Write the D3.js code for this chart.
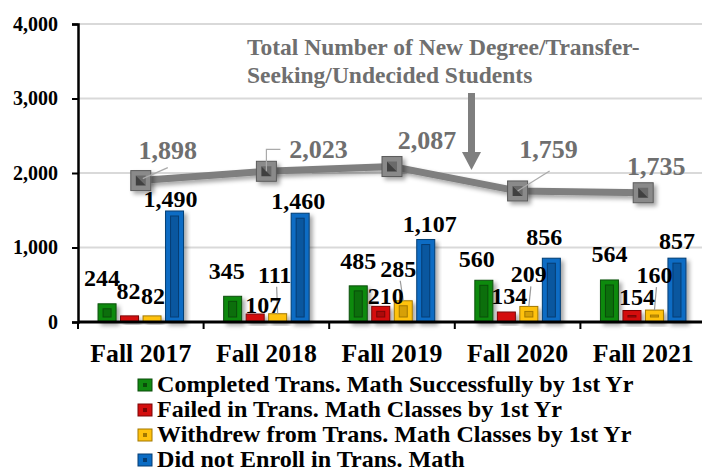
<!DOCTYPE html>
<html>
<head>
<meta charset="utf-8">
<script src="https://cdn.jsdelivr.net/npm/d3@7"></script>
<style>
  body { margin: 0; background: #fff; }
  svg { display: block; font-family: 'Liberation Serif', 'Times New Roman', serif; font-weight: bold; }
</style>
</head>
<body>
<svg width="702" height="472"></svg>
<script>
const years = ['Fall 2017', 'Fall 2018', 'Fall 2019', 'Fall 2020', 'Fall 2021'];
const seriesNames = [
  'Completed Trans. Math Successfully by 1st Yr',
  'Failed in Trans. Math Classes by 1st Yr',
  'Withdrew from Trans. Math Classes by 1st Yr',
  'Did not Enroll in Trans. Math'
];
const completed = [244, 345, 485, 560, 564];
const failed = [82, 107, 210, 134, 154];
const withdrew = [82, 111, 285, 209, 160];
const notEnrolled = [1490, 1460, 1107, 856, 857];
const totals = [1898, 2023, 2087, 1759, 1735];
const yTicks = [0, 1000, 2000, 3000, 4000];
const annotation = ['Total Number of New Degree/Transfer-', 'Seeking/Undecided Students'];

const colors = ['#118a11', '#d40f0f', '#ffc20e', '#0b6cc4'];
const darker = ['#0a4d0a', '#7a0606', '#a37800', '#063d73'];

// hand placed label nudges (dx, dy) per series, per year
const barNudge = [
  [[-5, -14], [-6, -13], [0, -13], [-7, -9], [0, -14]],
  [[-1, -13], [8, 3], [5, 2], [3, -4], [5, -2]],
  [[1, -8], [-3, -27], [-5, -20], [0, -20], [0, -23]],
  [[-4, 0], [-2, 0], [4, -4], [-7, -9], [0, -5]]
];
const totalNudge = [[27, -22], [52, -13], [35, -18], [31, -33], [13, -18]];

const svg = d3.select('svg');
const plotLeft = 78, plotRight = 706, plotTop = 24, plotBottom = 322;

const x = d3.scaleBand().domain(years).range([plotLeft, plotRight]);
const x1 = d3.scaleBand().domain(d3.range(4)).range([-45, 45]).paddingInner(0.2).paddingOuter(0.1);
const y = d3.scaleLinear().domain([0, 4000]).range([plotBottom, plotTop]);

const defs = svg.append('defs');
defs.append('filter').attr('id', 'shadow')
  .attr('x', '-30%').attr('y', '-30%').attr('width', '170%').attr('height', '170%')
  .append('feDropShadow')
  .attr('dx', 3).attr('dy', 3).attr('stdDeviation', 2)
  .attr('flood-color', '#000').attr('flood-opacity', 0.35);

// gridlines
svg.append('g')
  .selectAll('line')
  .data(yTicks.filter(d => d > 0))
  .enter()
  .append('line')
  .attr('x1', plotLeft).attr('x2', 702)
  .attr('y1', d => y(d)).attr('y2', d => y(d))
  .attr('stroke', '#d9d9d9').attr('stroke-width', 2);

// y axis
const yAxis = svg.append('g')
  .attr('transform', `translate(${plotLeft},0)`)
  .call(d3.axisLeft(y).tickValues(yTicks).tickSize(6).tickPadding(14).tickFormat(d3.format(',')));
yAxis.select('.domain').attr('stroke', '#000').attr('stroke-width', 2.5);
yAxis.selectAll('.tick line').attr('stroke', '#000').attr('stroke-width', 2);
yAxis.selectAll('.tick text')
  .attr('font-family', 'Liberation Serif').attr('font-weight', 'bold')
  .attr('font-size', 20).attr('fill', '#000');

// bars
const series = [completed, failed, withdrew, notEnrolled];
const barData = [];
series.forEach((vals, s) => vals.forEach((v, i) => barData.push({ s, i, v })));
const barX = d => x(years[d.i]) + x.bandwidth() / 2 + x1(d.s);

const bars = svg.append('g').selectAll('g')
  .data(barData)
  .enter()
  .append('g')
  .attr('transform', d => `translate(${barX(d)},0)`);

bars.append('rect')
  .attr('x', 0)
  .attr('y', d => y(d.v))
  .attr('width', x1.bandwidth())
  .attr('height', d => plotBottom - y(d.v))
  .attr('fill', d => colors[d.s])
  .attr('stroke', d => darker[d.s])
  .attr('stroke-width', 1)
  .attr('filter', 'url(#shadow)');

bars.filter(d => plotBottom - y(d.v) > 10)
  .append('rect')
  .attr('x', 5)
  .attr('y', d => y(d.v) + 5)
  .attr('width', x1.bandwidth() - 10)
  .attr('height', d => plotBottom - y(d.v) - 10)
  .attr('fill', d => darker[d.s])
  .attr('fill-opacity', 0.45)
  .attr('stroke', d => darker[d.s])
  .attr('stroke-width', 1);

// x axis
const xAxis = svg.append('g')
  .attr('transform', `translate(0,${plotBottom})`);
xAxis.append('line')
  .attr('x1', plotLeft).attr('x2', 702)
  .attr('stroke', '#000').attr('stroke-width', 3);
xAxis.selectAll('.sep')
  .data(years)
  .enter()
  .append('line')
  .attr('x1', d => x(d)).attr('x2', d => x(d))
  .attr('y1', 0).attr('y2', 7)
  .attr('stroke', '#000').attr('stroke-width', 2);
xAxis.selectAll('text')
  .data(years)
  .enter()
  .append('text')
  .attr('x', d => x(d) + x.bandwidth() / 2)
  .attr('y', 40)
  .attr('text-anchor', 'middle')
  .attr('font-size', 25)
  .attr('textLength', 101)
  .attr('lengthAdjust', 'spacingAndGlyphs')
  .text(d => d);

// leader lines for the small bar labels
const leaders = barData.filter(d => d.s === 2 && barNudge[d.s][d.i][1] < -15);
svg.append('g').selectAll('line')
  .data(leaders)
  .enter()
  .append('line')
  .attr('x1', d => barX(d) + x1.bandwidth() / 2 + barNudge[d.s][d.i][0] + 2)
  .attr('y1', d => y(d.v) + barNudge[d.s][d.i][1])
  .attr('x2', d => barX(d) + x1.bandwidth() / 2)
  .attr('y2', d => y(d.v))
  .attr('stroke', '#999').attr('stroke-width', 1.2);

// bar labels
svg.append('g').selectAll('text')
  .data(barData)
  .enter()
  .append('text')
  .attr('x', d => barX(d) + x1.bandwidth() / 2 + barNudge[d.s][d.i][0])
  .attr('y', d => y(d.v) - 4 + barNudge[d.s][d.i][1])
  .attr('text-anchor', 'middle')
  .attr('font-size', 24)
  .attr('fill', '#000')
  .text(d => d3.format(',')(d.v));

// total line
const cx = (d, i) => x(years[i]) + x.bandwidth() / 2;
const line = d3.line().x(cx).y(d => y(d));

svg.append('path')
  .datum(totals)
  .attr('d', line)
  .attr('fill', 'none')
  .attr('stroke', '#7f7f7f')
  .attr('stroke-width', 7)
  .attr('filter', 'url(#shadow)');

const markers = svg.append('g').selectAll('g')
  .data(totals)
  .enter()
  .append('g')
  .attr('transform', (d, i) => `translate(${cx(d, i)},${y(d)})`)
  .attr('filter', 'url(#shadow)');
markers.append('rect')
  .attr('x', -10).attr('y', -10).attr('width', 20).attr('height', 20)
  .attr('fill', '#8a8a8a').attr('stroke', '#5a5a5a').attr('stroke-width', 1);
markers.append('path')
  .attr('d', 'M-5,-5L5,-5L5,5Z')
  .attr('fill', '#6a6a6a');
markers.append('path')
  .attr('d', 'M-5,-5L-5,5L5,5Z')
  .attr('fill', '#404040');

// leader lines for total labels
svg.append('line')
  .attr('x1', cx(totals[0], 0) + 2).attr('y1', y(totals[0]) - 2)
  .attr('x2', cx(totals[0], 0) + 27).attr('y2', y(totals[0]) - 13)
  .attr('stroke', '#aaa').attr('stroke-width', 1.2);
svg.append('path')
  .attr('d', `M${cx(totals[1], 1)},${y(totals[1])}V${y(totals[1]) - 22}H${cx(totals[1], 1) + 14}`)
  .attr('fill', 'none').attr('stroke', '#aaa').attr('stroke-width', 1.2);
svg.append('line')
  .attr('x1', cx(totals[3], 3)).attr('y1', y(totals[3]))
  .attr('x2', cx(totals[3], 3) + 32).attr('y2', y(totals[3]) - 20)
  .attr('stroke', '#aaa').attr('stroke-width', 1.2);

svg.append('g').selectAll('text')
  .data(totals)
  .enter()
  .append('text')
  .attr('x', (d, i) => cx(d, i) + totalNudge[i][0])
  .attr('y', (d, i) => y(d) + totalNudge[i][1])
  .attr('text-anchor', 'middle')
  .attr('font-size', 26)
  .attr('fill', '#6f6f6f')
  .text(d => d3.format(',')(d));

// annotation + arrow
svg.append('g').selectAll('text')
  .data(annotation)
  .enter()
  .append('text')
  .attr('x', 247)
  .attr('y', (d, i) => 55 + i * 28)
  .attr('font-size', 23.5)
  .attr('fill', '#6f6f6f')
  .text(d => d);

svg.append('rect')
  .attr('x', 468).attr('y', 93).attr('width', 7).attr('height', 60)
  .attr('fill', '#7f7f7f');
svg.append('path')
  .attr('d', 'M462,152L481,152L471.5,170Z')
  .attr('fill', '#7f7f7f');

// legend
const legend = svg.append('g').selectAll('g')
  .data(seriesNames)
  .enter()
  .append('g')
  .attr('transform', (d, i) => `translate(138,${392 + i * 25})`);
legend.append('rect')
  .attr('x', 0).attr('y', -13).attr('width', 14).attr('height', 12)
  .attr('fill', (d, i) => colors[i])
  .attr('stroke', (d, i) => darker[i]);
legend.append('rect')
  .attr('x', 5).attr('y', -9).attr('width', 4).attr('height', 4)
  .attr('fill', (d, i) => darker[i]);
legend.append('text')
  .attr('x', 19)
  .attr('y', 0)
  .attr('font-size', 22.5)
  .attr('fill', '#000')
  .text(d => d)
  .each(function() {
    // the original legend is set a little wider
    const w = this.getComputedTextLength();
    d3.select(this).attr('textLength', w * 1.07).attr('lengthAdjust', 'spacingAndGlyphs');
  });
</script>
</body>
</html>
